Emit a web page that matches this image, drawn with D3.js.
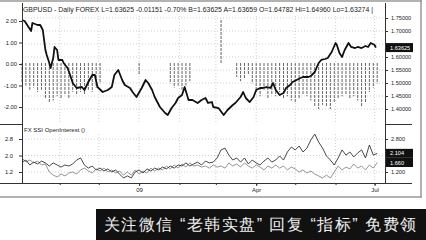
<!DOCTYPE html>
<html>
<head>
<meta charset="utf-8">
<script src="https://cdn.jsdelivr.net/npm/d3@7"></script>
<style>
body { margin: 0; background: #fff; }
svg { display: block; }
text { font-family: "Liberation Sans", Arial, sans-serif; }
</style>
</head>
<body>
<svg width="426" height="240"></svg>
<script>
var svg = d3.select("svg");

// GBPUSD daily close, day offsets from 2008-10-03
var priceDays = [0,2,5,7,8,10,12,14,16,18,19,21,22,24,25,27,28,31,32,35,37,39,42,46,48,51,54,56,58,62,
  66,69,71,74,77,79,83,85,88,92,95,97,100,102,106,110,112,115,118,120,123,125,128,131,135,138,141,143,146,147,
  151,155,158,162,164,168,170,172,175,178,180,183,185,188,191,193,195,198,201,203,206,208,211,214,216,220,222,225,228,230,
  233,235,238,241,242,244,246,248,251,253,256,258,261,264,266,268,271,272];
var price = [1.7423,1.7385,1.7154,1.7000,1.7308,1.7269,1.7231,1.7231,1.7038,1.6269,1.6077,1.5769,1.5577,1.5962,1.6385,
  1.6269,1.5885,1.5885,1.5769,1.5577,1.5308,1.5000,1.4808,1.4846,1.4731,1.5038,1.5308,1.5308,1.4846,1.4654,
  1.4731,1.4846,1.5308,1.5500,1.5115,1.4923,1.4808,1.4654,1.4462,1.4808,1.5115,1.5000,1.4731,1.4462,1.4077,
  1.3846,1.3769,1.4038,1.4231,1.4423,1.4538,1.4846,1.4346,1.4346,1.4231,1.4346,1.4423,1.4231,1.4269,1.4077,
  1.4038,1.3769,1.3962,1.4154,1.4231,1.4462,1.4654,1.4423,1.4269,1.4462,1.4731,1.4808,1.4808,1.4846,1.4808,
  1.5000,1.4731,1.4538,1.4615,1.4808,1.4923,1.5038,1.5115,1.5192,1.5231,1.5231,1.5269,1.5423,1.5769,1.5885,
  1.5923,1.5962,1.6192,1.6538,1.6462,1.6154,1.6000,1.6269,1.6538,1.6385,1.6346,1.6385,1.6346,1.6423,1.6385,
  1.6538,1.6462,1.63625];

// SSI oscillator, one value every 3 days (0 = no bar)
var ssi = [-0.9,-1.0,-1.2,-1.1,-1.3,-1.2,-1.6,-1.8,-1.7,-1.5,
  -1.6,-1.4,-1.6,-1.3,-1.4,-1.3,-1.4,-1.2,-1.3,-1.1,
  -0.9,0,0,0,0,0,0,0,0,0,
  -0.5,0,0,0,0,0,0,0,-0.9,-1.1,
  -1.0,-1.2,-1.0,-0.8,0,0,0,0,0,0,
  0,2.1,0,0,0,-0.6,-0.8,-0.7,-0.5,-0.9,
  -1.3,-1.5,-1.2,-1.6,-1.4,-1.5,-1.3,-1.6,-1.5,-1.7,
  -1.8,-1.6,-1.4,-1.5,-1.7,-2.0,-2.1,-1.9,-2.0,-2.1,
  -1.8,-1.6,-1.5,-1.4,-1.6,-1.5,-1.7,-2.0,-1.8,-1.3,
  -1.1,-0.9,0];

// open interest, one value every 3 days
var oiLong = [1.68,1.78,1.54,1.68,1.59,1.73,1.64,1.49,1.64,1.54,
  1.44,1.54,1.49,1.59,1.78,1.88,1.54,1.39,1.49,1.30,
  1.39,1.25,1.35,1.20,1.30,1.10,0.91,1.01,0.91,1.20,
  1.30,1.15,1.35,1.25,1.39,1.30,1.44,1.35,1.49,1.39,
  1.54,1.49,1.64,1.49,1.59,1.68,1.54,1.73,1.64,1.68,
  1.88,2.27,2.36,2.02,1.78,1.88,1.68,1.88,1.59,1.78,
  1.64,1.54,1.73,1.88,1.68,1.78,1.98,1.78,2.17,2.41,
  2.27,2.46,2.17,2.36,2.75,3.04,2.65,2.36,1.98,1.78,
  1.54,1.88,2.27,2.02,2.17,1.93,2.12,2.27,1.88,2.51,
  2.02,2.104];
var oiShort = [1.88,1.68,1.78,1.64,1.73,1.54,1.59,1.20,1.05,0.96,
  1.10,1.01,1.15,1.20,1.10,1.30,1.39,1.25,1.15,1.35,
  1.25,1.39,1.20,1.30,1.15,1.25,1.05,1.20,1.05,1.30,
  1.10,1.25,1.15,1.39,1.25,1.39,1.30,1.49,1.35,1.54,
  1.39,1.59,1.44,1.64,1.49,1.54,1.44,1.49,1.39,1.54,
  1.44,1.49,1.39,1.64,1.49,1.59,1.44,1.64,1.49,1.39,
  1.54,1.44,1.30,1.49,1.39,1.54,1.39,1.49,1.30,1.44,
  1.35,1.20,1.30,1.15,1.25,1.10,1.01,0.91,1.05,0.91,
  1.20,1.49,1.30,1.44,1.35,1.59,1.39,1.49,1.30,1.54,
  1.39,1.66];

var priceTicks = [1.75,1.70,1.65,1.60,1.55,1.50,1.45,1.40];
var priceLabels = [1.75,1.70,1.60,1.55,1.50,1.45,1.40];   // 1.65 sits under the last-price box
var oscTicks = [2,1,0,-1,-2];
var oiTicks = [2.8,2.0,1.2];
var oiRightLabels = [2.8,1.2];                            // 2.0 sits under the value boxes
var quarterLabels = ["09","Apr","Jul"];

var start = new Date(2008, 9, 3);
function day(n) { return d3.timeDay.offset(start, n); }

var x = d3.scaleTime().domain([start, new Date(2009, 6, 9)]).range([22, 385]);
var yP = d3.scaleLinear().domain([1.40, 1.75]).range([109, 18]);
var yO = d3.scaleLinear().domain([-2, 2]).range([107, 21]);
var yB = d3.scaleLinear().domain([1.2, 2.8]).range([172, 139]);

var months = d3.timeMonth.range(new Date(2008, 10, 1), new Date(2009, 6, 2));
var quarters = [new Date(2009,0,1), new Date(2009,3,1), new Date(2009,6,1)];

// grids
var grid = svg.append("g").attr("stroke", "#bbb").attr("stroke-dasharray", "1,2").attr("stroke-width", 0.7);
grid.selectAll(".hp").data(priceTicks).enter().append("line")
  .attr("x1", 22).attr("x2", 385).attr("y1", d => yP(d)).attr("y2", d => yP(d));
grid.selectAll(".hb").data(oiTicks).enter().append("line")
  .attr("x1", 22).attr("x2", 385).attr("y1", d => yB(d)).attr("y2", d => yB(d));
grid.selectAll(".v1").data(months).enter().append("line")
  .attr("x1", d => x(d)).attr("x2", d => x(d)).attr("y1", 16).attr("y2", 122);
grid.selectAll(".v2").data(months).enter().append("line")
  .attr("x1", d => x(d)).attr("x2", d => x(d)).attr("y1", 134).attr("y2", 182);

// ssi bars
svg.append("g").selectAll("line")
  .data(ssi.map((v, i) => ({d: day(i * 3), v: v})).filter(o => o.v !== 0))
  .enter().append("line")
  .attr("x1", o => x(o.d)).attr("x2", o => x(o.d))
  .attr("y1", yO(0) - 1).attr("y2", o => yO(o.v))
  .attr("stroke", "#666").attr("stroke-width", 1)
  .attr("stroke-dasharray", "3,1");

// price line
svg.append("path")
  .datum(priceDays.map((d, i) => ({d: day(d), v: price[i]})))
  .attr("fill", "none").attr("stroke", "#111").attr("stroke-width", 1.8)
  .attr("stroke-linejoin", "round")
  .attr("d", d3.line().x(o => x(o.d)).y(o => yP(o.v)));

// open interest lines
var oiLine = d3.line().x((v, i) => x(day(i * 3))).y(v => yB(v));
svg.append("path").datum(oiShort).attr("fill", "none").attr("stroke", "#888")
  .attr("stroke-width", 0.9).attr("d", oiLine);
svg.append("path").datum(oiLong).attr("fill", "none").attr("stroke", "#333")
  .attr("stroke-width", 0.9).attr("d", oiLine);

// frame lines
var frame = svg.append("g").attr("stroke", "#333").attr("stroke-width", 1);
frame.append("line").attr("x1", 22.5).attr("x2", 22.5).attr("y1", 3).attr("y2", 183);
frame.append("line").attr("x1", 385.5).attr("x2", 385.5).attr("y1", 3).attr("y2", 183);
frame.append("line").attr("x1", 0).attr("x2", 412).attr("y1", 183.5).attr("y2", 183.5);
frame.append("line").attr("x1", 0).attr("x2", 22).attr("y1", 124.5).attr("y2", 124.5);
frame.append("line").attr("x1", 385).attr("x2", 412).attr("y1", 124.5).attr("y2", 124.5);
var outer = svg.append("g").attr("stroke", "#999").attr("stroke-width", 1.5);
outer.append("line").attr("x1", 0).attr("x2", 422).attr("y1", 1).attr("y2", 1);
outer.append("line").attr("x1", 421).attr("x2", 421).attr("y1", 0).attr("y2", 197);
outer.append("line").attr("x1", 0).attr("x2", 422).attr("y1", 197).attr("y2", 197);

function styleAxis(g, size) {
  g.select(".domain").remove();
  g.selectAll("line").attr("stroke", "#333");
  g.selectAll("text").attr("font-size", size).attr("fill", "#222")
    .attr("font-family", "'Liberation Sans', Arial, sans-serif");
}

var hyphen = f => (d => f(d).replace("\u2212", "-"));

svg.append("g").attr("transform", "translate(385,0)")
  .call(d3.axisRight(yP).tickValues(priceLabels).tickSize(3).tickPadding(3).tickFormat(d3.format(".5f")))
  .call(g => styleAxis(g, 5.6));
svg.append("g").attr("transform", "translate(22,0)")
  .call(d3.axisLeft(yO).tickValues(oscTicks).tickSize(3).tickPadding(2).tickFormat(hyphen(d3.format(".2f"))))
  .call(g => styleAxis(g, 5.8));
svg.append("g").attr("transform", "translate(22,0)")
  .call(d3.axisLeft(yB).tickValues(oiTicks).tickSize(3).tickPadding(6).tickFormat(d3.format(".1f")))
  .call(g => styleAxis(g, 5.8));
svg.append("g").attr("transform", "translate(385,0)")
  .call(d3.axisRight(yB).tickValues(oiRightLabels).tickSize(3).tickPadding(3).tickFormat(d3.format(".3f")))
  .call(g => styleAxis(g, 5.6));
svg.append("g").attr("transform", "translate(0,183)")
  .call(d3.axisBottom(x).tickValues(months).tickSize(2).tickFormat(""))
  .call(g => styleAxis(g, 6));
svg.append("g").attr("transform", "translate(0,183)")
  .call(d3.axisBottom(x).tickValues(quarters).tickSize(3).tickPadding(2)
    .tickFormat((d, i) => quarterLabels[i]))
  .call(g => styleAxis(g, 6));

// last value boxes
var boxes = [
  {y: yP(price[price.length - 1]), t: d3.format(".5f")(price[price.length - 1])},
  {y: yB(oiLong[oiLong.length - 1]), t: d3.format(".3f")(oiLong[oiLong.length - 1])},
  {y: yB(oiShort[oiShort.length - 1]), t: d3.format(".3f")(oiShort[oiShort.length - 1])}
];
var bx = svg.append("g").selectAll("g").data(boxes).enter().append("g");
bx.append("rect").attr("x", 386).attr("y", b => b.y - 4.5).attr("width", 27).attr("height", 9).attr("fill", "#111");
bx.append("text").attr("x", 390).attr("y", b => b.y + 2).attr("font-size", 5.6).attr("fill", "#fff").text(b => b.t);

// titles
svg.append("text").attr("x", 23).attr("y", 12).attr("font-size", 6.5).attr("fill", "#222")
  .attr("textLength", 350).attr("lengthAdjust", "spacingAndGlyphs")
  .text("GBPUSD - Daily FOREX  L=1.63625  -0.01151  -0.70%  B=1.63625  A=1.63659  O=1.64782  Hi=1.64960  Lo=1.63274  |");
svg.append("text").attr("x", 24).attr("y", 132).attr("font-size", 6).attr("fill", "#222")
  .text("FX SSI OpenInterest ()");

// banner
svg.append("rect").attr("x", 96).attr("y", 209).attr("width", 330).attr("height", 31).attr("fill", "#111");
svg.append("text").attr("x", 104).attr("y", 230).attr("font-size", 16).attr("fill", "#f2f2f2")
  .attr("font-family", "'Noto Sans CJK SC', sans-serif")
  .attr("textLength", 312).attr("lengthAdjust", "spacing")
  .text("关注微信 “老韩实盘” 回复 “指标” 免费领");
</script>
</body>
</html>
